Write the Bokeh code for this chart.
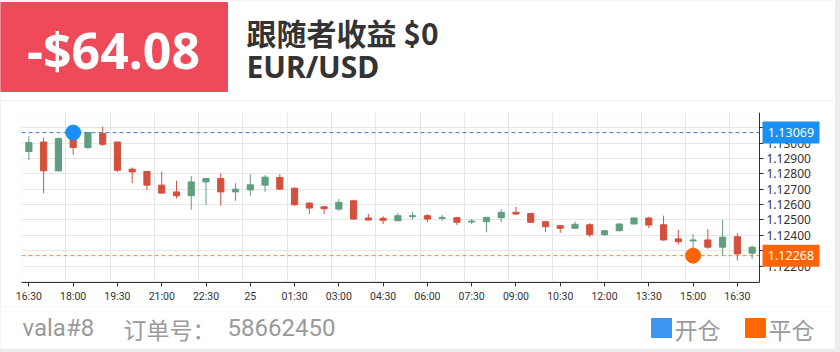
from bokeh.plotting import figure
from bokeh.layouts import column
from bokeh.models import (Range1d, FixedTicker, PrintfTickFormatter, ColumnDataSource)
from bokeh.embed import file_html
from bokeh.resources import INLINE
from bokeh.core.properties import value

# ---------------- data ----------------
times = ["16:30", "17:00", "17:30", "18:00", "18:30", "19:00", "19:30", "20:00",
         "20:30", "21:00", "21:30", "22:00", "22:30", "23:00", "23:30", "25",
         "00:30", "01:00", "01:30", "02:00", "02:30", "03:00", "03:30", "04:00",
         "04:30", "05:00", "05:30", "06:00", "06:30", "07:00", "07:30", "08:00",
         "08:30", "09:00", "09:30", "10:00", "10:30", "11:00", "11:30", "12:00",
         "12:30", "13:00", "13:30", "14:00", "14:30", "15:00", "15:30", "16:00",
         "16:30", "17:00"]

opens = [1.12946, 1.13008, 1.12820, 1.13040, 1.12972, 1.13064, 1.13008, 1.12831,
         1.12816, 1.12727, 1.12683, 1.12658, 1.12748, 1.12770, 1.12683, 1.12696,
         1.12727, 1.12777, 1.12707, 1.12610, 1.12586, 1.12571, 1.12625, 1.12513,
         1.12511, 1.12495, 1.12521, 1.12528, 1.12511, 1.12515, 1.12487, 1.12489,
         1.12515, 1.12550, 1.12543, 1.12489, 1.12463, 1.12446, 1.12469, 1.12404,
         1.12430, 1.12474, 1.12513, 1.12469, 1.12377, 1.12364, 1.12370, 1.12323,
         1.12391, 1.12284]
highs = [1.13047, 1.13037, 1.13037, 1.13075, 1.13073, 1.13108, 1.13010, 1.12842,
         1.12820, 1.12816, 1.12755, 1.12787, 1.12772, 1.12803, 1.12740, 1.12798,
         1.12792, 1.12798, 1.12712, 1.12615, 1.12590, 1.12636, 1.12632, 1.12539,
         1.12524, 1.12545, 1.12554, 1.12539, 1.12532, 1.12518, 1.12506, 1.12521,
         1.12571, 1.12586, 1.12545, 1.12495, 1.12467, 1.12489, 1.12480, 1.12435,
         1.12478, 1.12515, 1.12521, 1.12528, 1.12435, 1.12409, 1.12441, 1.12500,
         1.12415, 1.12333]
lows = [1.12889, 1.12675, 1.12818, 1.12926, 1.12961, 1.12982, 1.12813, 1.12740,
        1.12696, 1.12669, 1.12641, 1.12567, 1.12597, 1.12593, 1.12625, 1.12658,
        1.12684, 1.12696, 1.12593, 1.12539, 1.12539, 1.12560, 1.12500, 1.12496,
        1.12474, 1.12493, 1.12502, 1.12485, 1.12495, 1.12467, 1.12474, 1.12420,
        1.12485, 1.12534, 1.12480, 1.12424, 1.12416, 1.12442, 1.12388, 1.12398,
        1.12426, 1.12472, 1.12448, 1.12365, 1.12340, 1.12312, 1.12312, 1.12273,
        1.12236, 1.12247]
closes = [1.13004, 1.12820, 1.13030, 1.12972, 1.13069, 1.12993, 1.12824, 1.12813,
          1.12727, 1.12675, 1.12658, 1.12748, 1.12770, 1.12683, 1.12701, 1.12729,
          1.12779, 1.12701, 1.12599, 1.12578, 1.12573, 1.12615, 1.12506, 1.12500,
          1.12498, 1.12528, 1.12528, 1.12506, 1.12517, 1.12485, 1.12493, 1.12517,
          1.12550, 1.12539, 1.12485, 1.12456, 1.12446, 1.12472, 1.12404, 1.12430,
          1.12474, 1.12513, 1.12467, 1.12370, 1.12359, 1.12370, 1.12323, 1.12388,
          1.12279, 1.12323]

entry_index = 3
entry_price = 1.13069
exit_index = 45
exit_price = 1.12268

y_tick_values = [1.122, 1.123, 1.124, 1.125, 1.126, 1.127, 1.128, 1.129, 1.130, 1.131]
y_grid_values = [1.121, 1.122, 1.123, 1.124, 1.125, 1.126, 1.127, 1.128, 1.129,
                 1.130, 1.131, 1.132]
y_min, y_max = 1.12093, 1.13200

profit_text = "-$64.08"
follower_text = "跟随者收益 $0"
symbol_text = "EUR/USD"
account_text = "vala#8"
order_label = "订单号："
order_no = "58662450"
legend_labels = ["开仓", "平仓"]

# ---------------- style ----------------
UP = "#5f9e7f"
DOWN = "#d4503e"
BLUE = "#1a8ff5"
ORANGE = "#ff6508"
W = 835
CJK = value("Noto Sans CJK SC")
GREY = "#9a9a9a"

# ---------------- header ----------------
head = figure(width=W, height=100, x_range=Range1d(0, W), y_range=Range1d(100, 0),
              min_border=0, toolbar_location=None, output_backend="svg",
              x_axis_type=None, y_axis_type=None, frame_align=False)
head.grid.visible = False
head.outline_line_color = None
head.quad(left=[0], right=[227], top=[2], bottom=[91], color="#ee4a59")
head.text(x=[113], y=[49], text=[profit_text], text_align="center",
          text_baseline="middle", text_font=value("Noto Sans"),
          text_font_style="bold", text_font_size=value("50px"), text_color="white")
head.text(x=[246], y=[31], text=[follower_text], text_align="left",
          text_baseline="middle", text_font=CJK, text_font_style="bold",
          text_font_size=value("30px"), text_color="#333333")
head.text(x=[246], y=[66], text=[symbol_text], text_align="left",
          text_baseline="middle", text_font=value("Noto Sans"),
          text_font_style="bold", text_font_size=value("30px"), text_color="#333333")

# ---------------- chart ----------------
n = len(times)
idx = list(range(n))
src = ColumnDataSource(dict(
    x=idx, o=opens, h=highs, l=lows, c=closes,
    top=[max(o, c) for o, c in zip(opens, closes)],
    bottom=[min(o, c) for o, c in zip(opens, closes)],
    color=[UP if c >= o else DOWN for o, c in zip(opens, closes)],
))

FRAME_L = 21
CAT_PX = 738 / n                       # pixel width of one candle slot
x_end = -0.5 + (W - FRAME_L) / CAT_PX  # frame runs to the card's right edge

p = figure(width=W, height=206, x_range=Range1d(-0.5, x_end),
           y_range=Range1d(y_min, y_max), y_axis_location="right",
           min_border_left=FRAME_L, min_border_right=0, min_border_top=12,
           min_border_bottom=24, toolbar_location=None, output_backend="svg",
           frame_align=False)
p.outline_line_color = None
p.grid.grid_line_color = "#e6e6e6"
p.xgrid.ticker = FixedTicker(ticks=[i - 0.5 for i in idx[::3]])
p.ygrid.ticker = FixedTicker(ticks=y_grid_values)

# white area right of the price axis (hides grid there)
p.quad(left=[n - 0.5], right=[x_end], bottom=[y_min], top=[y_max],
       fill_color="white", line_color=None)

p.segment(x0="x", y0="l", x1="x", y1="h", line_color="color", line_width=1, source=src)
p.vbar(x="x", width=0.42, top="top", bottom="bottom", fill_color="color",
       line_color="color", source=src)

p.segment(x0=[-0.5, -0.5], x1=[n - 0.5, n - 0.5], y0=[entry_price, exit_price],
          y1=[entry_price, exit_price], line_color=["#3f7cb8", "#e8893e"],
          line_dash="4 3", line_width=1)

p.scatter(x=[entry_index], y=[entry_price], size=15, color=BLUE)
p.scatter(x=[exit_index], y=[exit_price], size=15, color=ORANGE)

# price tags to the right of the axis
tag_x = n - 0.5 + 31.5 / CAT_PX
p.rect(x=[tag_x, tag_x], y=[entry_price, exit_price], width=57, height=22,
       width_units="screen", height_units="screen", fill_color=[BLUE, ORANGE],
       line_color=None, level="overlay")
p.text(x=[tag_x, tag_x], y=[entry_price, exit_price],
       text=[f"{entry_price:.5f}", f"{exit_price:.5f}"], text_align="center",
       text_baseline="middle", text_color="white", text_font=value("Noto Sans"),
       text_font_size=value("12.5px"), level="overlay")

xa = p.xaxis[0]
xa.bounds = (-0.5, n - 0.5)
xa.ticker = FixedTicker(ticks=idx[::3])
xa.major_label_overrides = {i: times[i] for i in idx[::3]}
xa.major_label_text_font = "Roboto"
xa.major_label_text_font_size = "10.5px"
xa.major_label_text_color = "#333333"
xa.axis_line_color = "#333333"
xa.major_tick_line_color = "#333333"
xa.major_tick_in = 0
xa.major_tick_out = 4
xa.minor_tick_in = 0
xa.minor_tick_out = 0
xa.major_label_standoff = 3

ya = p.yaxis[0]
ya.fixed_location = n - 0.5
ya.ticker = FixedTicker(ticks=y_tick_values)
ya.formatter = PrintfTickFormatter(format="%.5f")
ya.major_label_text_font = "Noto Sans"
ya.major_label_text_font_size = "12px"
ya.major_label_text_color = "#333333"
ya.axis_line_color = "#333333"
ya.major_tick_line_color = "#333333"
ya.major_tick_in = 0
ya.major_tick_out = 4
ya.minor_tick_in = 0
ya.minor_tick_out = 0
ya.major_label_standoff = 3

# ---------------- footer ----------------
foot = figure(width=W, height=43, x_range=Range1d(0, W), y_range=Range1d(43, 0),
              min_border=0, toolbar_location=None, output_backend="svg",
              x_axis_type=None, y_axis_type=None, frame_align=False)
foot.grid.visible = False
foot.outline_line_color = None
foot.text(x=[22], y=[21], text=[account_text], text_baseline="middle",
          text_font=value("Roboto"), text_font_size=value("24px"), text_color=GREY)
foot.text(x=[123], y=[22], text=[order_label], text_baseline="middle",
          text_font=CJK, text_font_size=value("23px"), text_color=GREY)
foot.text(x=[227], y=[21], text=[order_no], text_baseline="middle",
          text_font=value("Roboto"), text_font_size=value("24px"), text_color=GREY)
foot.quad(left=[651, 745], right=[671, 765], top=[12, 12], bottom=[31, 31],
          color=["#3d96f2", "#ff6600"])
foot.text(x=[674, 768], y=[22, 22], text=legend_labels, text_baseline="middle",
          text_font=CJK, text_font_size=value("23px"), text_color=GREY)

layout = column(head, p, foot, width=840, height=352,
                styles={"background-color": "#ececec"})

open("out.html", "w").write(file_html(layout, INLINE))
